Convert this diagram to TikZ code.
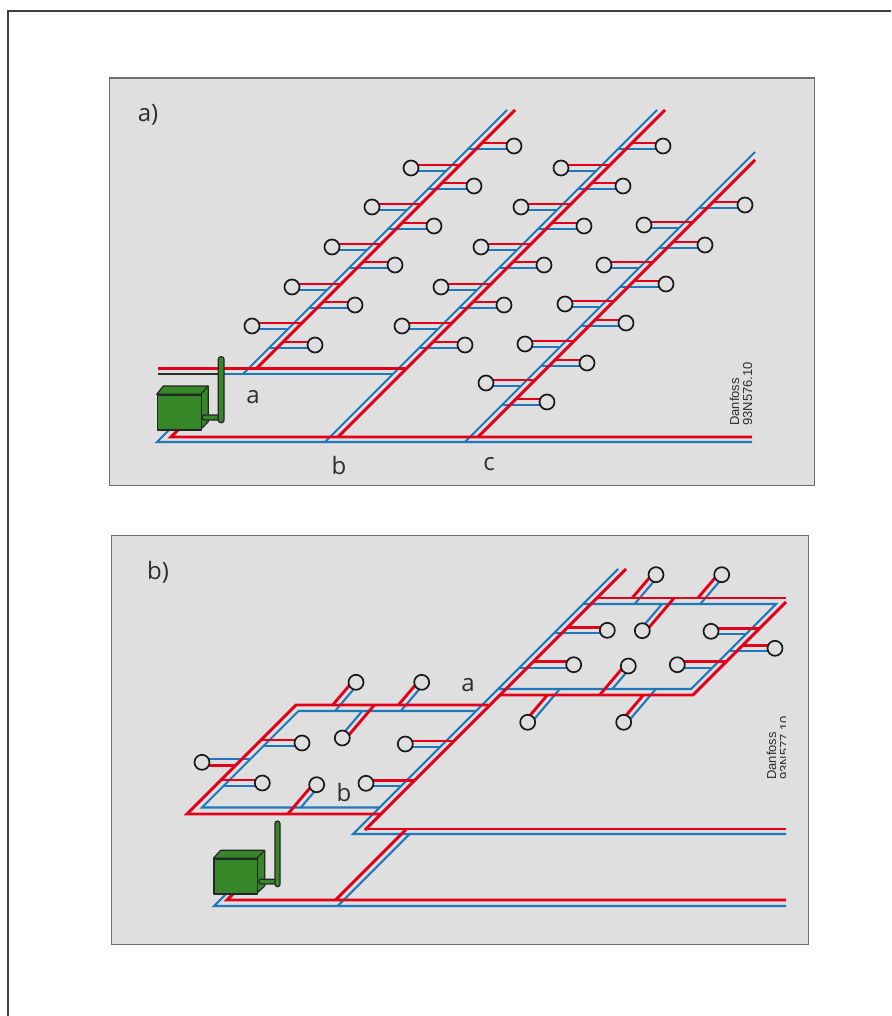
\documentclass[tikz,border=0pt]{standalone}
\usepackage{fontspec}
\setmainfont{Open Sans}
\newfontfamily\stampfont{Liberation Sans}
\definecolor{panelgray}{HTML}{DFDFDF}
\definecolor{panelline}{HTML}{6E6E6E}
\definecolor{pipered}{HTML}{E2001A}
\definecolor{pipeblue}{HTML}{1F78BC}
\definecolor{boxgreen}{HTML}{358728}
\definecolor{inkdark}{HTML}{2E2E2E}
\pgfdeclarelayer{bgl}\pgfdeclarelayer{bluel}\pgfdeclarelayer{redl}
\pgfsetlayers{bgl,bluel,redl,main}
\tikzset{
  panelbox/.style={fill=panelgray,draw=panelline,line width=1.3pt},
  redpipe/.style={draw=pipered,line width=2.9pt},
  bluepipe/.style={draw=pipeblue,line width=2.1pt},
  consumer/.style={circle,draw=black!90,line width=1.7pt,fill=panelgray,minimum size=15pt,inner sep=0pt},
  letter/.style={font=\fontsize{24}{24}\selectfont,text=inkdark,inner sep=0pt},
  stamp/.style={font=\stampfont\fontsize{13}{13}\selectfont,text=inkdark,inner sep=0pt,rotate=90,anchor=base west},
  greenpart/.style={fill=boxgreen,draw=black!85,line width=1.2pt,line join=round},
}
\newcount\consn
\newcommand{\consumerat}[2]{\global\advance\consn by 1\relax
  \node[consumer] (c\the\consn) at (#1,#2) {};}
% horizontal branch: circle x,y; red main sum; blue main sum; half gap
\newcommand{\hbranch}[5]{%
  \pgfmathsetmacro{\yr}{#2-#5}\pgfmathsetmacro{\yb}{#2+#5}%
  \pgfmathsetmacro{\xr}{#3-\yr}\pgfmathsetmacro{\xb}{#4-\yb}%
  \begin{pgfonlayer}{bluel}\draw[bluepipe] (#1,\yb) -- (\xb,\yb);\end{pgfonlayer}%
  \begin{pgfonlayer}{redl}\draw[redpipe] (#1,\yr) -- (\xr,\yr);\end{pgfonlayer}%
  \consumerat{#1}{#2}}
% slanted stub: circle x,y; red end y; blue end y; red offset; blue offset
\newcommand{\stub}[6]{%
  \pgfmathsetmacro{\xr}{#1+#5+.85*(#2-#3)}\pgfmathsetmacro{\xb}{#1+#6+.85*(#2-#4)}%
  \pgfmathsetmacro{\xro}{#1+#5}\pgfmathsetmacro{\xbo}{#1+#6}%
  \begin{pgfonlayer}{bluel}\draw[bluepipe] (\xbo,#2) -- (\xb,#4);\end{pgfonlayer}%
  \begin{pgfonlayer}{redl}\draw[redpipe] (\xro,#2) -- (\xr,#3);\end{pgfonlayer}%
  \consumerat{#1}{#2}}
\begin{document}
\begin{tikzpicture}[x=1pt,y=-1pt]
\useasboundingbox (0,0) rectangle (891,1016);
\begin{pgfonlayer}{bgl}
  \fill[white] (0,0) rectangle (891,1016);
  \draw[draw=black!75,line width=1.1pt] (8,1016) -- (8,11) -- (891,11);
  \node[panelbox,minimum width=705.5pt,minimum height=407.5pt,inner sep=0pt,anchor=north west] (panelA) at (108.5,77.5) {};
  \node[panelbox,minimum width=697pt,minimum height=408.5pt,inner sep=0pt,anchor=north west] (panelB) at (111,535) {};
\end{pgfonlayer}

% ---------- panel a ----------
\begin{pgfonlayer}{bluel}
  \draw[bluepipe] (507,110) -- (243,374);
  \draw[bluepipe] (657,110) -- (325,442);
  \draw[bluepipe] (755,152) -- (465,442);
  \draw[bluepipe] (221,374) -- (393,374);
  \draw[bluepipe] (172,427) -- (157,442) -- (752,442);
\end{pgfonlayer}
\begin{pgfonlayer}{redl}
  \draw[redpipe] (515,110) -- (257,368);
  \draw[redpipe] (665,110) -- (338,437);
  \draw[redpipe] (755,160) -- (478,437);
  \draw[redpipe] (158,368.5) -- (405,368.5);
  \draw[redpipe] (195,413) -- (171,437) -- (752,437);
\end{pgfonlayer}
\draw[inkdark,line width=1.6pt] (158,374) -- (221,374);

\foreach \cx/\cy in {514/146,474/186,434/226,395/265,355/305,315/345,411/168,372/207,332/247,292/287,252/326}
  {\hbranch{\cx}{\cy}{625}{617}{3}}
\foreach \cx/\cy in {663/146,623/186,584/226,544/265,504/305,465/345,561/168,521/207,481/247,441/287,402/326}
  {\hbranch{\cx}{\cy}{775}{767}{3}}
\foreach \cx/\cy in {745/205,705/245,666/284,626/323,587/363,547/402,644/225,604/265,565/304,525/344,486/383}
  {\hbranch{\cx}{\cy}{915}{907}{3}}

% unit a
\draw[greenpart] (156.7,394.3) -- (163.3,386) -- (208.3,386) -- (208.3,421.7) -- (200.7,429.3) -- (200.7,394.3) -- cycle;
\draw[greenpart] (200.7,394.3) -- (208.3,386);
\node[greenpart,draw,rectangle,inner sep=0pt,minimum width=44pt,minimum height=35pt,anchor=north west] (boxA) at (156.7,394.3) {};
\draw[greenpart,rounded corners=2pt] (202.3,415) rectangle (220,420);
\draw[greenpart,rounded corners=2.5pt] (218.3,356.7) rectangle (224,422.7);

\node[letter] (la) at (253,397) {a};
\node[letter] (lb) at (339,465) {b};
\node[letter] (lc) at (489,464) {c};
\node[letter] (ta) at (148,115) {a)};
\node[stamp] (da) at (739,426) {Danfoss};
\node[stamp] (db) at (752,426) {93N576.10};

% ---------- panel b ----------
\begin{pgfonlayer}{bluel}
  \draw[bluepipe] (618,569) -- (353,834) -- (786,834);
  \draw[bluepipe] (583,604) -- (776,604) -- (691,689) -- (498,689);
  \draw[bluepipe] (476.5,711) -- (298.5,711) -- (202,807.5) -- (380,807.5);
  \draw[bluepipe] (337.5,906) -- (409.5,834);
  \draw[bluepipe] (232,888) -- (214,906) -- (786,906);
\end{pgfonlayer}
\begin{pgfonlayer}{redl}
  \draw[redpipe] (626,569) -- (365,830);
  \draw[redpipe] (365,829) -- (786,829);
  \draw[redpipe] (597,598) -- (786,598);
  \draw[redpipe] (786,602) -- (693,695) -- (500,695);
  \draw[redpipe] (488,705) -- (296,705) -- (187,814) -- (380,814);
  \draw[redpipe] (335.5,900) -- (406,829.5);
  \draw[redpipe] (245,882) -- (227,900) -- (786,900);
\end{pgfonlayer}

% right grid
\stub{656}{574.7}{598}{604}{-4}{3.5}
\stub{721.7}{574.7}{598}{604}{-4}{3.5}
\stub{642.3}{630.7}{598}{604}{4}{-3}
\stub{628.3}{666}{695}{689}{-4}{3.5}
\stub{527.7}{722.3}{695}{689}{-3.5}{3.8}
\stub{623.7}{722.3}{695}{689}{-3.5}{3.8}
\hbranch{607.3}{630.3}{1195}{1187}{3}
\hbranch{573.7}{664.7}{1195}{1187}{3}
\hbranch{711}{631.3}{1388}{1380}{3}
\hbranch{677.3}{664.7}{1388}{1380}{3}
\hbranch{775}{648.3}{1388}{1380}{3}
% left grid
\stub{356}{682.3}{705}{711}{-4}{3.5}
\stub{421.7}{682.3}{705}{711}{-4}{3.5}
\stub{342.3}{738}{705}{711}{4}{-3}
\stub{316.7}{784.7}{814}{807.5}{-4}{3.5}
\hbranch{302}{743}{1001}{1009.5}{3}
\hbranch{262.3}{783}{1001}{1009.5}{3}
\hbranch{202}{762.3}{1001.5}{1009.5}{-3}
\hbranch{405.3}{744}{1194}{1187}{3}
\hbranch{366}{783.3}{1194}{1187}{3}

% unit b
\draw[greenpart] (213.3,858.3) -- (220.7,850.3) -- (264.7,850.3) -- (264.7,886) -- (256.7,893.3) -- (256.7,858.3) -- cycle;
\draw[greenpart] (256.7,858.3) -- (264.7,850.3);
\node[greenpart,draw,rectangle,inner sep=0pt,minimum width=43.4pt,minimum height=35pt,anchor=north west] (boxB) at (213.3,858.3) {};
\draw[greenpart,rounded corners=2pt] (259,879.3) rectangle (276,884);
\draw[greenpart,rounded corners=2.5pt] (275,821) rectangle (280,886.7);

\node[letter] (lab) at (468,685) {a};
\node[letter] (lbb) at (344,792) {b};
\node[letter] (tb) at (158,572) {b)};
\node[stamp] (dc) at (776,780) {Danfoss};
\begin{scope}
  \clip (760,700) rectangle (785,790);
  \node[stamp] (dd) at (789,780) {93N577.10};
\end{scope}
\end{tikzpicture}
\end{document}
